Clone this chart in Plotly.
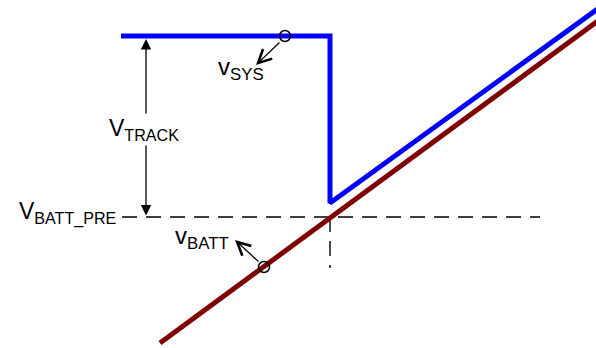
import plotly.graph_objects as go

# diagram coordinates (x to the right, y upward), canvas 596 x 348
sys_x = [121, 330, 330, 610]
sys_y = [312, 312, 145, 348]
batt_x = [160, 610]
batt_y = [5, 336]

pre_x = [122, 540]
pre_y = [131, 131]
cross_x = [330, 330]
cross_y = [131, 80]

marker_x = [285, 264]
marker_y = [312, 81]

track_x = 146
track_top = 309
track_bottom = 131

fig = go.Figure()

fig.add_trace(go.Scatter(x=pre_x, y=pre_y, mode='lines',
                         line=dict(color='black', width=1.4, dash='15px,9px')))
fig.add_trace(go.Scatter(x=cross_x, y=cross_y, mode='lines',
                         line=dict(color='black', width=1.4, dash='15px,9px')))
fig.add_trace(go.Scatter(x=batt_x, y=batt_y, mode='lines',
                         line=dict(color='#800000', width=5)))
fig.add_trace(go.Scatter(x=sys_x, y=sys_y, mode='lines',
                         line=dict(color='#0000FF', width=5)))
fig.add_trace(go.Scatter(x=marker_x, y=marker_y, mode='markers',
                         marker=dict(symbol='circle-open', size=11, color='black',
                                     line=dict(width=1.5))))

font = dict(family='Liberation Sans, Arial, sans-serif', size=23, color='black')
font_small = dict(family='Liberation Sans, Arial, sans-serif', size=24, color='black')

# V_TRACK double arrow
fig.add_annotation(x=track_x, y=track_top, ax=track_x, ay=track_bottom,
                   xref='x', yref='y', axref='x', ayref='y', text='',
                   showarrow=True, arrowhead=2, arrowside='end+start',
                   arrowsize=1.6, arrowwidth=1.3, arrowcolor='black')
fig.add_annotation(x=track_x - 2, y=219, text='V<sub>TRACK</sub>', showarrow=False,
                   font=font, bgcolor='white', xanchor='center', yanchor='middle')

fig.add_annotation(x=119, y=135, text='V<sub>BATT_PRE</sub>', showarrow=False,
                   font=font, xanchor='right', yanchor='middle')

# pointer arrows to the traces
fig.add_annotation(x=256, y=283, ax=281, ay=307,
                   xref='x', yref='y', axref='x', ayref='y', text='',
                   showarrow=True, arrowhead=5, arrowsize=2, arrowwidth=1.3,
                   arrowcolor='black')
fig.add_annotation(x=241, y=280, text='v<sub>SYS</sub>', showarrow=False,
                   font=font_small, xanchor='center', yanchor='middle')

fig.add_annotation(x=235, y=108, ax=260, ay=85,
                   xref='x', yref='y', axref='x', ayref='y', text='',
                   showarrow=True, arrowhead=5, arrowsize=2, arrowwidth=1.3,
                   arrowcolor='black')
fig.add_annotation(x=202, y=111, text='v<sub>BATT</sub>', showarrow=False,
                   font=font_small, xanchor='center', yanchor='middle')

fig.update_layout(
    width=596,
    height=348,
    margin=dict(l=0, r=0, t=0, b=0),
    plot_bgcolor='white',
    paper_bgcolor='white',
    showlegend=False,
    xaxis=dict(range=[0, 596], visible=False, fixedrange=True),
    yaxis=dict(range=[0, 348], visible=False, fixedrange=True),
)

fig.write_html("out.html", config={'displayModeBar': False},
               post_script="document.body.style.margin='0px';")
